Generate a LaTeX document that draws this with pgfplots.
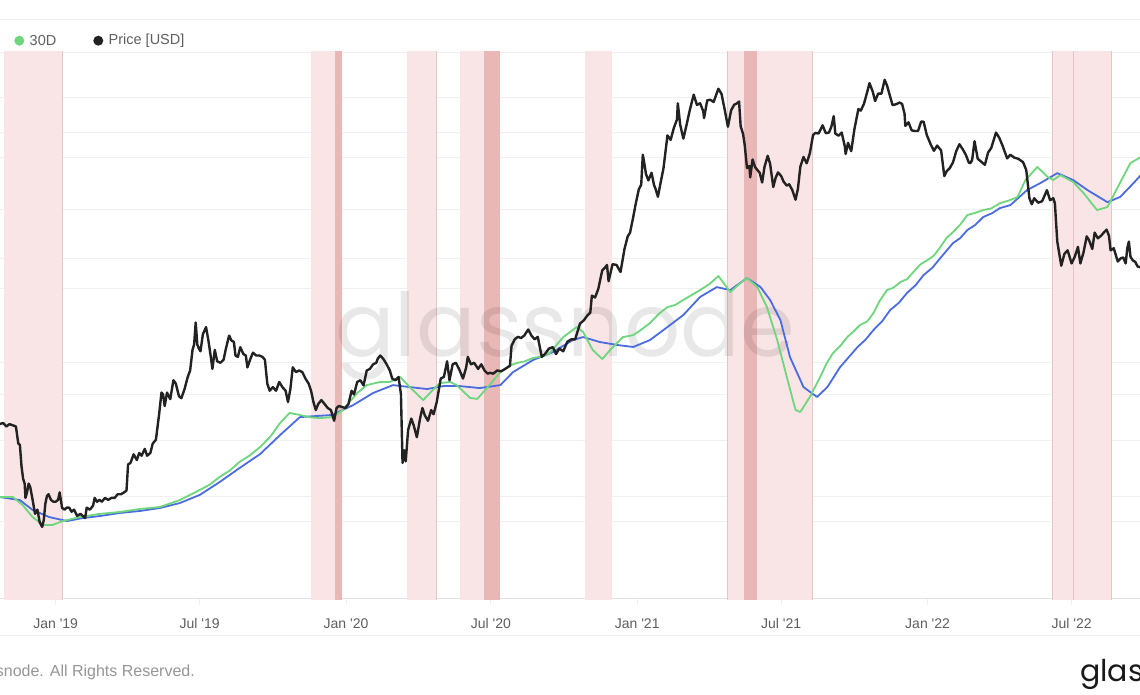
\documentclass[border=0pt]{standalone}
\usepackage{pgfplots}
\pgfplotsset{compat=1.18}
\usepackage{fontspec}
\setmainfont{Liberation Sans}
\newfontfamily\lsans{Liberation Sans}
\newfontfamily\pop{Poppins}

\definecolor{hrgreen}{RGB}{110,214,124}
\definecolor{hrblue}{RGB}{75,108,224}
\definecolor{pricek}{RGB}{34,34,34}
\definecolor{bandlight}{RGB}{249,229,229}
\definecolor{banddark}{RGB}{234,183,183}
\definecolor{bandedge}{RGB}{232,196,196}
\definecolor{gridgray}{RGB}{240,240,240}
\definecolor{axisgray}{RGB}{226,226,226}
\definecolor{labgray}{RGB}{95,95,95}
\definecolor{footgray}{RGB}{150,150,150}

% hash rate, 30 day and 60 day averages (EH/s); x = days from 1 Jan 2019
\pgfplotstableread{
d h
-71 49.2
-54 49.2
-41.5 45.1
-29 39.0
-16 35.0
-4 35.0
9 37.0
30 39.0
55 40.6
81 41.6
106 43.1
131 44.1
156 47.6
181 52.7
194 55.5
206 59.3
219 62.6
231 66.9
244 70.2
257 74.5
270 79.8
282 86.6
294 91.7
307 90.7
320 89.5
332 89.1
348 89.6
361 93.2
379 101.8
391 105.8
408 107.4
420 107.4
433 109.9
445 104.8
462 98.2
474 103.3
483 106.8
496 107.4
504 105.8
521 99.3
530 98.8
542 104.3
559 112.4
570 115.6
580 117.0
590 117.9
600 119.5
611 120.3
621 122.0
638 130.1
655 135.2
663 132.7
675 123.6
687 119.0
697 123.6
713 130.1
726 131.1
736 133.8
747 137.2
758 141.8
769 145.3
779 146.4
789 148.9
800 151.5
810 153.9
822 157.0
833 161.0
848 152.9
858 156.5
869 160.0
882 155.4
894 145.3
907 128.6
920 108.4
930 93.2
936 92.2
948 99.8
961 109.9
969 116.8
977 122.0
986 125.5
995 130.1
1003 133.0
1011 136.2
1020 138.0
1028 142.3
1036 148.6
1045 153.9
1053 155.1
1062 158.0
1070 159.4
1078 163.0
1087 166.9
1096 169.1
1104 171.4
1112 175.7
1120 180.4
1128 183.3
1137 187.0
1146 191.9
1156 193.0
1166 194.4
1176 195.2
1187 197.9
1198 199.2
1209 201.0
1219 209.6
1234 216.2
1247 211.1
1254 209.6
1263 212.1
1279 208.6
1292 203.0
1309 194.4
1322 195.9
1335 206.0
1351 218.2
1364 221.2
}\thirtyd

\pgfplotstableread{
d h
-71 49.2
-45 47.6
-29 42.6
-8 39.0
14 37.0
34 38.5
55 39.5
81 41.1
106 42.1
131 43.6
156 46.1
181 50.2
206 56.7
231 63.8
257 70.9
282 80.5
307 89.6
348 90.7
374 95.7
399 101.8
424 105.8
445 104.8
467 103.8
487 105.3
508 105.3
533 104.3
559 105.8
575 112.4
600 118.5
625 122.5
650 128.6
663 130.1
684 127.6
706 126.1
726 125.1
747 128.6
769 135.2
789 141.3
810 150.4
831 155.4
848 153.9
869 160.0
886 155.4
898 148.9
911 138.7
923 120.0
940 104.8
957 99.8
970 104.8
986 114.9
1008 125.1
1018 128.8
1028 133.7
1039 138.2
1049 143.8
1060 147.5
1070 152.4
1081 156.4
1091 161.5
1102 165.2
1112 170.1
1128 177.7
1137 180.2
1146 184.3
1156 186.9
1166 190.9
1177 192.8
1187 195.4
1200 196.9
1221 204.5
1238 208.1
1259 213.1
1279 209.6
1297 204.5
1322 198.4
1338 201.0
1355 208.1
1364 212.1
}\sixtyd

% BTC price (USD)
\pgfplotstableread{
d p
-71 6450
-66 6500
-62 6350
-58 6450
-54 6400
-50 6350
-47 5650
-45 5600
-43 4850
-41 4450
-39 4300
-38 3900
-36 4050
-34 4300
-32 4200
-29 3850
-26 3500
-23 3600
-20 3300
-17 3200
-15 3350
-13 3750
-11 3950
-9 4000
-6 3850
-3 3800
0 3800
3 3850
5 4050
8 3650
11 3600
14 3650
17 3650
20 3550
23 3600
27 3450
31 3500
34 3450
37 3400
39 3650
43 3600
47 3700
49 3900
52 3800
55 3850
58 3800
62 3900
66 3850
70 3900
74 3900
78 4000
82 4000
86 4050
89 4100
91 4900
94 4950
98 5250
102 5050
105 5300
108 5200
112 5450
115 5200
119 5300
122 5650
126 5800
130 6900
133 8000
135 7900
137 7300
140 8000
144 7650
148 8700
151 8500
155 7800
158 7700
162 8200
166 8900
169 9300
172 10700
174 11100
176 12900
178 11100
180 10800
182 10600
185 11900
189 12500
192 11400
195 10200
197 9400
200 10700
203 9900
207 9800
211 10000
214 10800
218 11800
221 11400
224 11300
226 10300
229 10200
232 10900
236 10400
239 10300
241 9500
245 10100
248 10500
252 10300
256 10300
260 10200
263 10000
266 8500
269 8100
273 8300
277 8100
281 8600
285 8300
289 8100
292 7500
295 8200
298 9500
302 9200
306 9300
310 9200
314 8800
318 8500
321 8100
324 7500
327 7100
330 7400
334 7600
338 7400
342 7200
346 7100
350 6600
353 7200
356 7300
360 7250
364 7200
368 7400
372 8100
375 7900
379 8600
383 8700
387 8400
391 9300
395 9400
399 9700
403 9800
405 10100
408 10300
412 10050
416 9700
420 9300
423 8800
427 8700
431 8900
434 7900
436 4950
438 5400
440 5000
443 6200
447 6700
450 6400
454 5900
458 6700
461 7200
464 6850
468 6600
472 7100
475 6900
479 7500
484 8800
488 8900
492 9900
495 8700
499 9700
503 9800
507 9400
512 8800
516 9500
518 10200
522 9700
526 9800
531 9400
535 9700
539 9300
543 9100
546 9150
550 9100
555 9300
560 9250
565 9400
568 9500
571 9600
573 11000
577 11500
581 11700
585 11600
589 11800
594 12300
598 11800
602 11500
606 11700
611 10200
615 10400
620 10800
625 10900
629 10400
633 10800
638 10600
643 11300
648 11500
653 11500
659 12800
664 13100
668 13500
672 13800
674 15500
678 15300
682 16200
687 18400
690 18700
693 19100
695 17100
700 19200
705 19100
710 18200
715 21300
719 23200
722 23800
726 26500
729 28900
733 32000
736 33000
738 40500
740 38100
742 35500
745 34000
749 35800
752 33000
754 32100
757 30400
760 33100
764 36900
769 46200
773 44800
777 48600
781 51500
782 57500
785 49700
789 45200
793 49600
797 54800
802 61000
806 56900
810 57500
814 54500
815 52000
819 58700
823 58900
827 58000
833 63500
837 61300
841 55000
845 49000
849 54800
853 57000
856 57400
859 58200
861 49200
864 46700
866 43500
869 37000
872 37500
873 34700
876 39200
879 37300
882 36500
885 35800
888 33500
891 37300
895 40200
898 38100
902 32500
905 34600
908 35900
912 35000
915 33700
919 32800
922 33100
926 31800
930 29800
933 32100
936 37300
940 39900
944 38200
948 40900
952 46300
955 47000
959 46800
964 49500
968 46900
972 47100
975 49000
978 52700
980 46800
984 46100
988 47100
992 42800
993 40700
996 43900
1000 41500
1004 48200
1009 55300
1012 54700
1016 57300
1020 62000
1023 66000
1027 62300
1030 58400
1034 61500
1038 61400
1042 67500
1045 64900
1049 60100
1052 56800
1056 57100
1061 57800
1064 57200
1067 53600
1068 49300
1072 50500
1076 47800
1080 47600
1084 47600
1088 50800
1091 50700
1095 46300
1100 43400
1104 41600
1108 43100
1113 41700
1117 35000
1120 36200
1124 37000
1128 38500
1132 41500
1136 43500
1140 42100
1144 40500
1148 38300
1150 38300
1152 39100
1155 44400
1159 39400
1163 38700
1168 37800
1172 41100
1176 42400
1182 47100
1186 45500
1190 43200
1196 39500
1200 40500
1205 39700
1210 39400
1216 38500
1220 36500
1224 30100
1227 28900
1230 30100
1235 29200
1240 29500
1246 31800
1250 29700
1254 30100
1256 29100
1259 22400
1262 20300
1264 19000
1268 20600
1272 21100
1277 19300
1281 20200
1285 21600
1288 19300
1292 20800
1296 23200
1299 22600
1303 21300
1306 23800
1310 22900
1314 23300
1318 23900
1321 24300
1324 23300
1326 21100
1330 21400
1335 19550
1339 20000
1342 20100
1345 19300
1347 21400
1349 22400
1351 20200
1354 19700
1357 19500
1360 18900
1364 18800
}\btcprice

\newcommand{\band}[3]{%
  \addplot[fill=#3, draw=none] coordinates {(#1,-10) (#1,300) (#2,300) (#2,-10)} -- cycle;}
\newcommand{\edge}[1]{%
  \addplot[draw=bandedge, line width=0.9pt] coordinates {(#1,-10) (#1,300)};}

\begin{document}
\begin{tikzpicture}
\useasboundingbox (0pt,0pt) rectangle (1140pt,694pt);
\fill[white] (0pt,0pt) rectangle (1140pt,694pt);
\draw[gridgray, line width=0.9pt] (0pt,675pt) -- (1140pt,675pt);
\draw[gridgray, line width=0.9pt] (0pt,59pt) -- (1140pt,59pt);

\begin{axis}[
  at={(0pt,95pt)}, anchor=south west,
  scale only axis, width=1140pt, height=547pt,
  xmin=-70, xmax=1363,
  ymin=-2.46, ymax=274.4,
  axis line style={draw=none},
  xtick={0,181,365,547,731,912,1096,1277},
  xticklabels={Jan '19,Jul '19,Jan '20,Jul '20,Jan '21,Jul '21,Jan '22,Jul '22},
  x tick label style={font=\lsans\fontsize{14}{16}\selectfont, text=labgray, anchor=base, yshift=-23pt},
  xtick pos=bottom, tick align=outside,
  major tick length=6pt,
  xtick style={draw=gridgray, line width=0.8pt},
  ytick={37.0,49.2,78.0,101.3,117.5,154.9,170.1,194.9,221.2,233.9,251.6,274.3},
  yticklabels={},
  ytick style={draw=none},
  ymajorgrids,
  grid style={draw=gridgray, line width=0.9pt},
  extra y ticks={-2.4}, extra y tick labels={},
  extra y tick style={grid style={draw=axisgray, line width=1pt}, ytick style={draw=none}},
]
\band{-65.4}{8.8}{bandlight}
\edge{8.8}
\band{320.8}{351.0}{bandlight}
\band{351.0}{359.8}{banddark}
\band{441.5}{478.0}{bandlight}
\edge{478.0}
\band{508.2}{538.4}{bandlight}
\band{538.4}{558.5}{banddark}
\band{665.4}{699.4}{bandlight}
\band{844.0}{865.4}{bandlight}
\band{865.4}{881.8}{banddark}
\band{881.8}{951.0}{bandlight}
\edge{844.0}
\edge{951.0}
\band{1252.9}{1327.1}{bandlight}
\edge{1252.9}
\edge{1279.3}
\edge{1327.1}

\node[anchor=base, inner sep=0, font=\pop\fontsize{88}{88}\selectfont, text=black, opacity=0.09]
  at (rel axis cs:0.4956,0.444) {glassnode};

\addplot[hrblue, line width=1.8pt, line join=round] table[x=d, y=h] {\sixtyd};
\addplot[hrgreen, line width=1.8pt, line join=round] table[x=d, y=h] {\thirtyd};
\end{axis}

\begin{axis}[
  at={(0pt,95pt)}, anchor=south west,
  scale only axis, width=1140pt, height=547pt,
  xmin=-70, xmax=1363,
  ymode=log, ymin=1958, ymax=81600,
  hide axis,
]
\addplot[pricek, line width=2.4pt, line join=round] table[x=d, y=p] {\btcprice};
\end{axis}

% legend
\fill[hrgreen] (19.3pt,653.3pt) circle (5pt);
\node[anchor=west, inner sep=0, text=labgray, font=\lsans\fontsize{14.5}{17}\selectfont] at (29.5pt,653.3pt) {30D};
\fill[pricek] (98.3pt,653.3pt) circle (5pt);
\node[anchor=west, inner sep=0, text=labgray, font=\lsans\fontsize{14.5}{17}\selectfont] at (108.5pt,653.3pt) {Price [USD]};

% footer
\node[anchor=base east, inner sep=0, text=footgray, font=\lsans\fontsize{16}{19}\selectfont] at (195pt,18pt) {© 2022 Glassnode. All Rights Reserved.};
\node[anchor=base west, inner sep=0, text=black!90, font=\pop\fontsize{30}{30}\selectfont] at (1080pt,13pt) {glassnode};
\end{tikzpicture}
\end{document}
